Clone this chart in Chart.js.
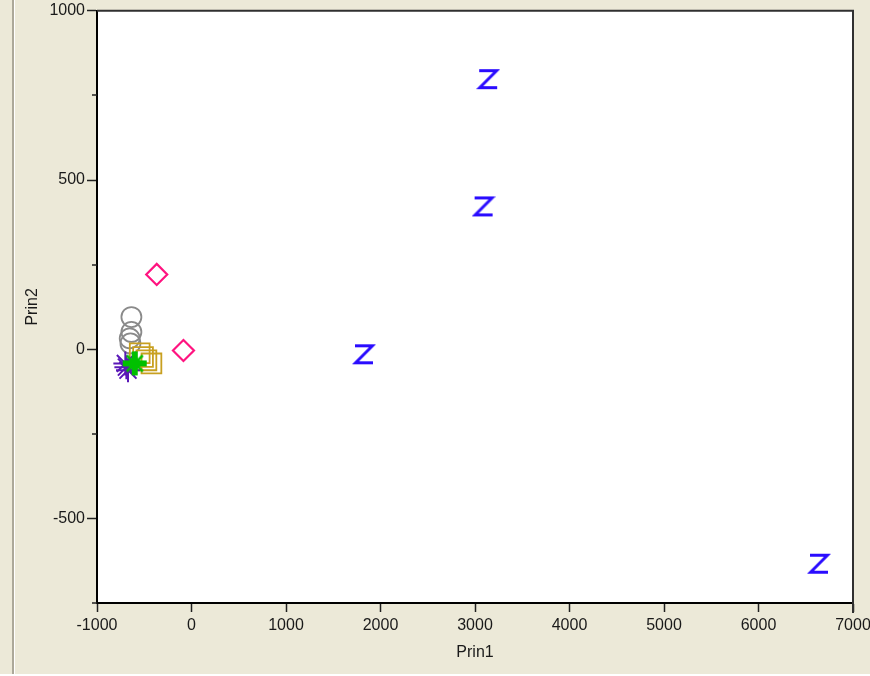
<!DOCTYPE html>
<html>
<head>
<meta charset="utf-8">
<script src="https://cdn.jsdelivr.net/npm/chart.js@4/dist/chart.umd.min.js"></script>
<style>
html,body{margin:0;padding:0;background:#ECE9D8;overflow:hidden;}
#wrap{width:870px;height:676px;position:relative;overflow:hidden;}
#c{position:absolute;left:0;top:-5px;}
</style>
</head>
<body>
<div id="wrap"><canvas id="c" width="870" height="681"></canvas></div>
<script>
// ---- data ----
const zPrin1 = [3139, 3091, 1825, 6640];
const zPrin2 = [798, 422, -15, -634];
const diamondPrin1 = [-368, -85];
const diamondPrin2 = [221, -4];
const circlePrin1 = [-636, -636, -654, -646];
const circlePrin2 = [95, 51, 32, 17];
const squarePrin1 = [-548, -513, -477, -424];
const squarePrin2 = [-12, -23, -33, -42];
const asteriskPrin1 = [-689, -672, -700];
const asteriskPrin2 = [-53, -62, -42];
const plusPrin1 = [-601];
const plusPrin2 = [-42];
const xTickStep = 1000;
const yTickStep = 250;
const yLabelStep = 500;

function pts(xs, ys) { return xs.map((x, i) => ({x: x, y: ys[i]})); }

function makeZ(color) {
  const c = document.createElement('canvas');
  c.width = 24; c.height = 24;
  const g = c.getContext('2d');
  g.strokeStyle = color; g.lineWidth = 3; g.lineCap = 'butt'; g.lineJoin = 'miter';
  g.beginPath();
  g.moveTo(3, 3.5); g.lineTo(20.5, 3.5); g.lineTo(3.5, 20.5); g.lineTo(21, 20.5);
  g.stroke();
  return c;
}
function makePlus(color) {
  const c = document.createElement('canvas');
  c.width = 26; c.height = 26;
  const g = c.getContext('2d');
  g.strokeStyle = color;
  g.lineWidth = 2.5;
  g.beginPath();
  g.moveTo(5, 5); g.lineTo(21, 21); g.moveTo(21, 5); g.lineTo(5, 21);
  g.stroke();
  g.lineWidth = 6;
  g.beginPath();
  g.moveTo(13, 1); g.lineTo(13, 25); g.moveTo(1, 13); g.lineTo(25, 13);
  g.stroke();
  return c;
}

const bgPlugin = {
  id: 'bg',
  beforeDraw(chart) {
    const ctx = chart.ctx;
    ctx.save();
    ctx.fillStyle = '#ECE9D8';
    ctx.fillRect(0, 0, chart.width, chart.height);
    ctx.fillStyle = '#ACA899';
    ctx.fillRect(12, 0, 2, chart.height);
    ctx.fillStyle = '#FFFFFF';
    ctx.fillRect(14, 0, 1, chart.height);
    ctx.fillRect(0, chart.height - 2, chart.width, 2);
    const a = chart.chartArea;
    ctx.fillStyle = '#FFFFFF';
    ctx.fillRect(a.left, a.top, a.right - a.left, a.bottom - a.top);
    ctx.restore();
  },
  afterDraw(chart) {
    const ctx = chart.ctx;
    const a = chart.chartArea;
    ctx.save();
    ctx.strokeStyle = '#303030';
    ctx.lineWidth = 2;
    ctx.beginPath();
    ctx.moveTo(a.left, a.top);
    ctx.lineTo(a.right, a.top);
    ctx.lineTo(a.right, a.bottom + 10);
    ctx.stroke();
    // minor ticks on y axis
    const ys = chart.scales.y;
    ctx.strokeStyle = '#202020';
    ctx.lineWidth = 1.5;
    ctx.beginPath();
    ys.ticks.forEach(t => {
      if (t.value % yLabelStep !== 0) {
        const py = Math.round(ys.getPixelForValue(t.value));
        ctx.moveTo(a.left - 5, py);
        ctx.lineTo(a.left, py);
      }
    });
    ctx.stroke();
    ctx.restore();
  }
};

const font = {family: '"Liberation Sans", Arial, sans-serif', size: 16};

new Chart(document.getElementById('c'), {
  type: 'scatter',
  data: {
    datasets: [
      {label: 'Z', data: pts(zPrin1, zPrin2), pointStyle: makeZ('#2a0cff'), pointRadius: 12},
      {label: 'plus', data: pts(plusPrin1, plusPrin2), pointStyle: makePlus('#00c000'), pointRadius: 12},
      {label: 'asterisk', data: pts(asteriskPrin1, asteriskPrin2), pointStyle: 'star', pointRadius: 12, borderColor: '#5a18b8', backgroundColor: '#5a18b8', borderWidth: 2},
      {label: 'square', data: pts(squarePrin1, squarePrin2), pointStyle: 'rect', pointRadius: 14, borderColor: '#c8a020', backgroundColor: 'rgba(0,0,0,0)', borderWidth: 1.8},
      {label: 'diamond', data: pts(diamondPrin1, diamondPrin2), pointStyle: 'rectRot', pointRadius: 10.5, borderColor: '#ff1480', backgroundColor: 'rgba(0,0,0,0)', borderWidth: 2.2},
      {label: 'circle', data: pts(circlePrin1, circlePrin2), pointStyle: 'circle', pointRadius: 10, borderColor: '#8a8a8a', backgroundColor: 'rgba(0,0,0,0)', borderWidth: 1.8}
    ]
  },
  options: {
    responsive: false,
    animation: false,
    layout: {padding: {left: 0, top: 5, right: 17, bottom: 0}},
    plugins: {legend: {display: false}, tooltip: {enabled: false}},
    scales: {
      x: {
        type: 'linear', min: -1000, max: 7000,
        ticks: {stepSize: xTickStep, color: '#1a1a1a', font: font, padding: 4, maxRotation: 0,
          callback: v => String(v)},
        grid: {drawOnChartArea: false, drawTicks: true, tickLength: 9, tickColor: '#202020', tickWidth: 1.5},
        border: {display: true, color: '#000', width: 2},
        title: {display: true, text: 'Prin1', color: '#1a1a1a', font: font, padding: {top: 0, bottom: 14}},
        afterFit: s => { s.height = 73; s.paddingRight = 0; s.paddingLeft = 0; }
      },
      y: {
        type: 'linear', min: -750, max: 1000,
        ticks: {stepSize: yTickStep, color: '#1a1a1a', font: font, padding: 2,
          callback: v => (v % yLabelStep === 0 ? String(v) : '')},
        grid: {drawOnChartArea: false, drawTicks: true, tickLength: 10,
          tickColor: c => (c.tick && c.tick.value % yLabelStep === 0 ? '#202020' : 'rgba(0,0,0,0)'), tickWidth: 1.5},
        border: {display: true, color: '#000', width: 2},
        title: {display: true, text: 'Prin2', color: '#1a1a1a', font: font, padding: {top: 23, bottom: 0}},
        afterFit: s => { s.width = 97; s.paddingTop = 0; s.paddingBottom = 0; }
      }
    }
  },
  plugins: [bgPlugin]
});
</script>
</body>
</html>
